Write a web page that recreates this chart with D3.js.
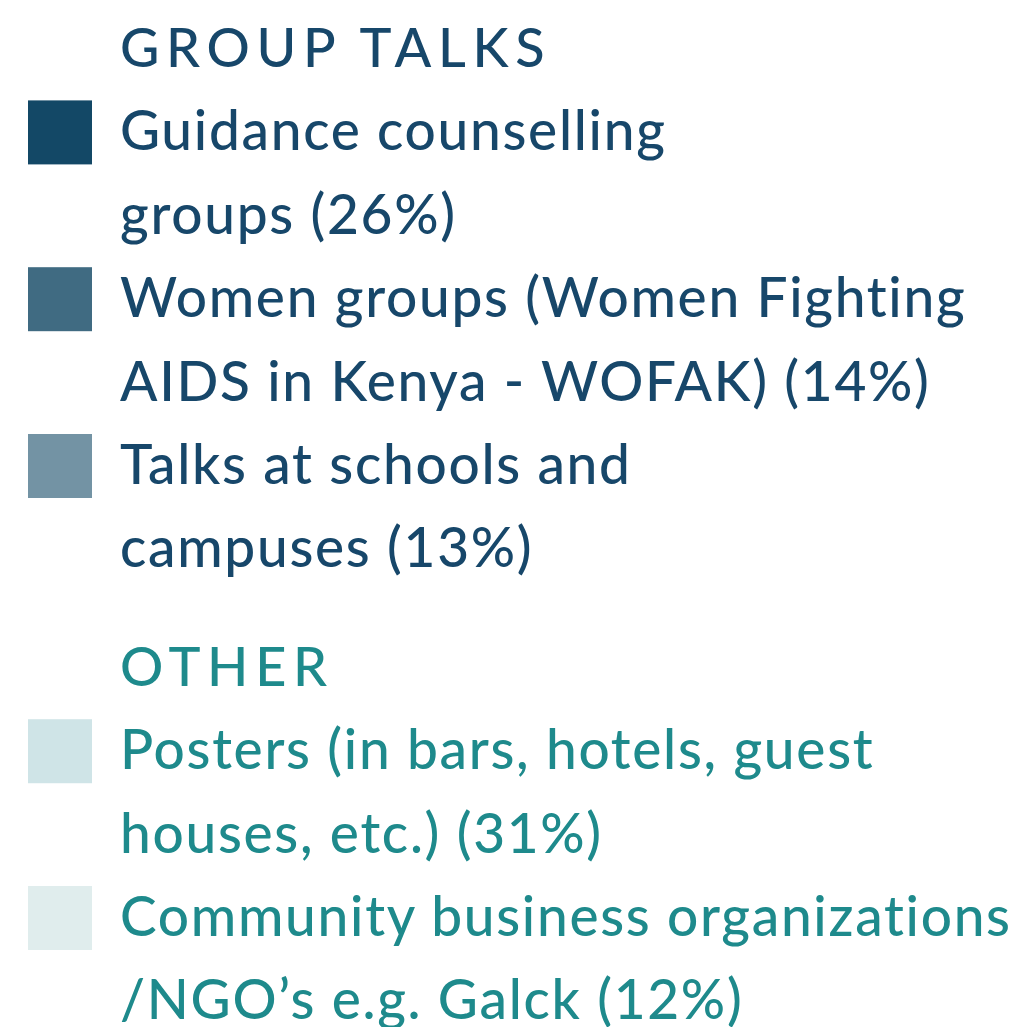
<!DOCTYPE html>
<html>
<head>
<meta charset="utf-8">
<script src="https://cdn.jsdelivr.net/npm/d3@7"></script>
<style>
  body { margin: 0; background: #fff; }
  svg { display: block; }
</style>
</head>
<body>
<svg id="legend"></svg>
<script>
// legend data
var groups = ["GROUP TALKS", "OTHER"];
var groupOf = [0, 0, 0, 1, 1];
var labels = [
  ["Guidance counselling", "groups"],
  ["Women groups (Women Fighting", "AIDS in Kenya - WOFAK)"],
  ["Talks at schools and", "campuses"],
  ["Posters (in bars, hotels, guest", "houses, etc.)"],
  ["Community business organizations", "/NGO\u2019s e.g. Galck"]
];
var values = [26, 14, 13, 31, 12];

var swatchColors = ["#134866", "#406b82", "#7393a4", "#cfe4e7", "#e0eded"];
var textColors = ["#17476a", "#1e8a8c"];

var svgWidth = 1020, svgHeight = 1027;
var fontFamily = "Lato, 'Noto Sans', sans-serif";

var svg = d3.select("#legend")
  .attr("width", svgWidth)
  .attr("height", svgHeight);

// build rows: header row then text lines per item
var rows = [];
groups.forEach(function (g, gi) {
  rows.push({ type: "header", text: g, group: gi });
  labels.forEach(function (lines, i) {
    if (groupOf[i] !== gi) return;
    lines.forEach(function (line, li) {
      var t = li === lines.length - 1 ? line + " (" + values[i] + "%)" : line;
      rows.push({ type: "line", text: t, group: gi, item: i, first: li === 0 });
    });
  });
});

// slot positions (extra gap before every header but the first)
var slot = 0;
rows.forEach(function (r, i) {
  if (r.type === "header" && i > 0) slot += 0.42;
  r.slot = slot;
  slot += 1;
});

var y = d3.scaleLinear()
  .domain([0, 1])
  .range([67, 150.4]);

svg.selectAll("text.row")
  .data(rows)
  .enter()
  .append("text")
  .attr("class", "row")
  .attr("x", 120)
  .attr("y", function (d) { return y(d.slot); })
  .attr("fill", function (d) { return textColors[d.group]; })
  .style("font-family", fontFamily)
  .style("font-size", function (d) { return d.type === "header" ? "54px" : "55px"; })
  .style("font-weight", "500")
  .style("letter-spacing", function (d) { return d.type === "header" ? "6.7px" : "1.7px"; })
  .text(function (d) { return d.text; });

svg.selectAll("rect.swatch")
  .data(rows.filter(function (r) { return r.first; }))
  .enter()
  .append("rect")
  .attr("class", "swatch")
  .attr("x", 28)
  .attr("y", function (d) { return y(d.slot) - 50; })
  .attr("width", 64)
  .attr("height", 64)
  .attr("fill", function (d) { return swatchColors[d.item]; });
</script>
</body>
</html>
